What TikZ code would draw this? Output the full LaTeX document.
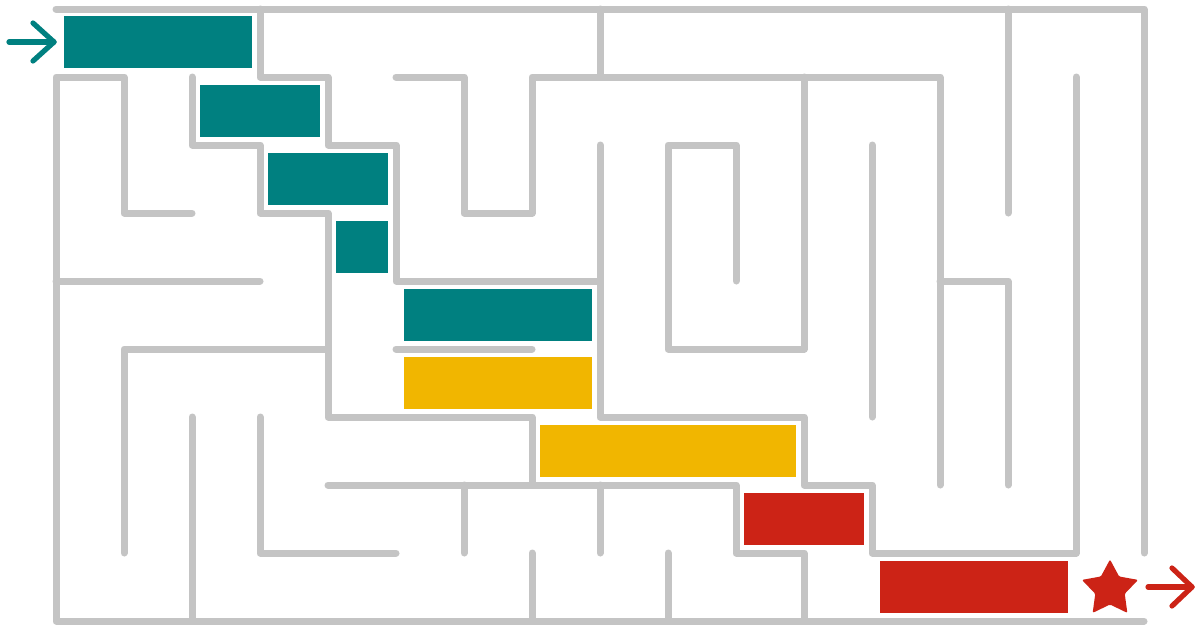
\documentclass[tikz,border=0pt]{standalone}
\definecolor{wallgray}{HTML}{C4C4C4}
\definecolor{mteal}{HTML}{008080}
\definecolor{myellow}{HTML}{F1B600}
\definecolor{mred}{HTML}{CC2316}
\tikzset{
  wall/.style={draw=wallgray, line width=7pt, line cap=round, line join=round},
  tealbox/.style={fill=mteal},
  yellowbox/.style={fill=myellow},
  redbox/.style={fill=mred},
  arrowline/.style={line width=5.2pt, line cap=round, line join=round}
}
\begin{document}
\begin{tikzpicture}[x=1pt,y=-1pt]
\useasboundingbox (0,0) rectangle (1200,630);
\fill[white] (0,0) rectangle (1200,630);
% maze walls on the grid
\begin{scope}[shift={(56,9)}, x=68pt, y=-68pt]
\draw[wall] (0,0) -- (16,0) -- (16,8);
\draw[wall] (2,3) -- (1,3) -- (1,1) -- (0,1) -- (0,9) -- (16,9);
\draw[wall] (3,0) -- (3,1) -- (4,1) -- (4,2) -- (5,2) -- (5,4) -- (8,4);
\draw[wall] (8,2) -- (8,6) -- (11,6) -- (11,7) -- (12,7) -- (12,8) -- (15,8) -- (15,1);
\draw[wall] (2,1) -- (2,2) -- (3,2) -- (3,3) -- (4,3) -- (4,6) -- (7,6) -- (7,7);
\draw[wall] (4,7) -- (10,7) -- (10,8) -- (11,8) -- (11,9);
\draw[wall] (4,5) -- (1,5) -- (1,8);
\draw[wall] (0,4) -- (3,4);
\draw[wall] (5,1) -- (6,1) -- (6,3) -- (7,3) -- (7,1) -- (13,1) -- (13,7);
\draw[wall] (11,1) -- (11,5) -- (9,5) -- (9,2) -- (10,2) -- (10,4);
\draw[wall] (8,0) -- (8,1);
\draw[wall] (13,4) -- (14,4) -- (14,7);
\draw[wall] (14,0) -- (14,3);
\draw[wall] (12,2) -- (12,6);
\draw[wall] (5,5) -- (7,5);
\draw[wall] (2,6) -- (2,9);
\draw[wall] (3,6) -- (3,8) -- (5,8);
\draw[wall] (6,7) -- (6,8);
\draw[wall] (7,8) -- (7,9);
\draw[wall] (8,7) -- (8,8);
\draw[wall] (9,8) -- (9,9);
\end{scope}
% path boxes
\fill[tealbox] (64,16) rectangle (252,68);
\fill[tealbox] (200,85) rectangle (320,137);
\fill[tealbox] (268,153) rectangle (388,205);
\fill[tealbox] (336,221) rectangle (388,273);
\fill[tealbox] (404,289) rectangle (592,341);
\fill[yellowbox] (404,357) rectangle (592,409);
\fill[yellowbox] (540,425) rectangle (796,477);
\fill[redbox] (744,493) rectangle (864,545);
\fill[redbox] (880,561) rectangle (1068,613);
% entrance arrow
\coordinate (inS) at (9,42);
\coordinate (inT) at (54,42);
\coordinate (inA) at (33,23);
\coordinate (inB) at (33,61);
\draw[arrowline, mteal] (inS) -- (inT);
\draw[arrowline, mteal] (inA) -- (inT) -- (inB);
% star
\begin{scope}[shift={(1110,589)}]
\fill[mred, rounded corners=1.2pt] (-90:29.5) -- (-54:15.5) -- (-18:29.5) -- (18:15.5) -- (54:29.5) -- (90:15.5) -- (126:29.5) -- (162:15.5) -- (198:29.5) -- (234:15.5) -- cycle;
\end{scope}
% exit arrow
\coordinate (outS) at (1148,587);
\coordinate (outT) at (1192,587);
\coordinate (outA) at (1172,568);
\coordinate (outB) at (1172,606);
\draw[arrowline, mred] (outS) -- (outT);
\draw[arrowline, mred] (outA) -- (outT) -- (outB);
\end{tikzpicture}
\end{document}
